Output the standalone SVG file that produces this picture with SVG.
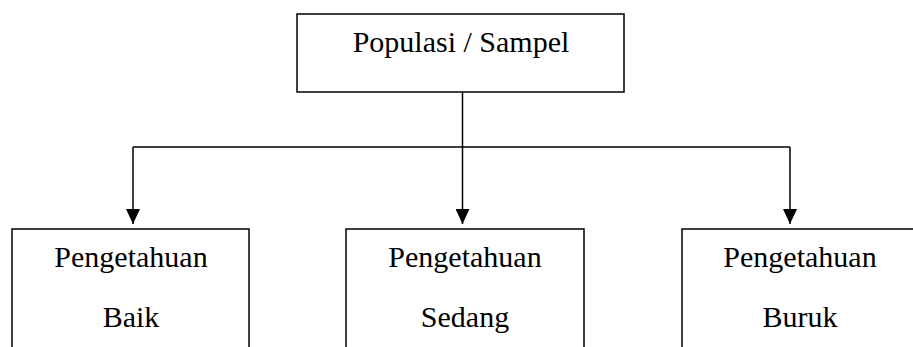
<svg xmlns="http://www.w3.org/2000/svg" width="913" height="347" viewBox="0 0 913 347">
<style>
.box{fill:#fff;stroke:#000;stroke-width:1.5}
.t{font-family:"Liberation Serif","Times New Roman",serif;font-size:30px;fill:#000;text-anchor:middle}
.c{fill:none;stroke:#000;stroke-width:1.5}
</style>
<defs>
<marker id="ah" markerUnits="userSpaceOnUse" markerWidth="15" markerHeight="14" refX="15" refY="7" orient="auto" viewBox="0 0 15 14">
<path d="M0,0 L15,7 L0,14 Z" fill="#000"/>
</marker>
</defs>
<g id="connectors">
<line class="c" x1="462.5" y1="92" x2="462.5" y2="147"/>
<line class="c" x1="133" y1="147" x2="790" y2="147"/>
<line class="c" x1="133" y1="147" x2="133" y2="224" marker-end="url(#ah)"/>
<line class="c" x1="462.5" y1="147" x2="462.5" y2="224" marker-end="url(#ah)"/>
<line class="c" x1="790" y1="147" x2="790" y2="224" marker-end="url(#ah)"/>
</g>
<g id="populasi">
<rect class="box" x="297" y="14" width="327" height="78"/>
<text class="t" x="461" y="52">Populasi / Sampel</text>
</g>
<g id="baik">
<rect class="box" x="12" y="229" width="237" height="140"/>
<text class="t" x="131" y="267">Pengetahuan</text>
<text class="t" x="131" y="327">Baik</text>
</g>
<g id="sedang">
<rect class="box" x="346" y="229" width="238" height="140"/>
<text class="t" x="465" y="267">Pengetahuan</text>
<text class="t" x="465" y="327">Sedang</text>
</g>
<g id="buruk">
<rect class="box" x="682" y="229" width="260" height="140"/>
<text class="t" x="800" y="267">Pengetahuan</text>
<text class="t" x="800" y="327">Buruk</text>
</g>
</svg>
